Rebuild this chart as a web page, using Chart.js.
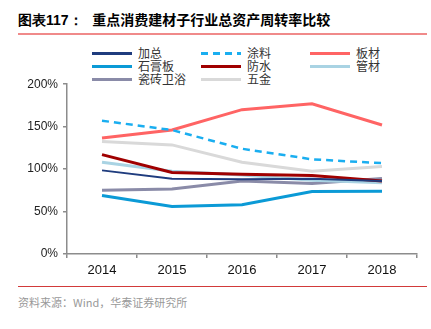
<!DOCTYPE html>
<html>
<head>
<meta charset="utf-8">
<script src="https://cdn.jsdelivr.net/npm/chart.js@4"></script>
<style>
body { margin:0; width:431px; height:329px; background:#fff; position:relative; overflow:hidden;
       font-family:"Liberation Sans","Noto Sans CJK SC",sans-serif; }
#title { position:absolute; left:18px; top:9px; font-size:14px; font-weight:bold; color:#000;
         font-family:"Noto Sans CJK SC",sans-serif; white-space:nowrap; }
#title .num { font-family:"Liberation Sans",sans-serif; }
#rule1 { position:absolute; left:18px; top:33px; width:409px; height:2px; background:#f08a8a; }
#rule2 { position:absolute; left:18px; top:286px; width:409px; height:1px; background:#d23a3a; }
#source { position:absolute; left:18px; top:294px; font-size:11px; color:#999;
          font-family:"Noto Sans CJK SC",sans-serif; white-space:nowrap; }
#legend { position:absolute; left:0; top:46px; }
.item { position:absolute; height:14px; font-size:12px; color:#333; white-space:nowrap;
        font-family:"Noto Sans CJK SC",sans-serif; line-height:14px; }
.item .sw { position:absolute; left:0; top:6px; width:40px; height:0; }
.item span { position:absolute; left:46px; top:0; }
#wrap { position:absolute; left:0; top:72px; width:431px; height:208px; }
</style>
</head>
<body>
<div id="title"><span class="num">图表117：</span>&nbsp;&nbsp;&nbsp;重点消费建材子行业总资产周转率比较</div>
<div id="rule1"></div>
<div id="legend"></div>
<div id="wrap"><canvas id="chart" width="431" height="208"></canvas></div>
<div id="rule2"></div>
<div id="source">资料来源：Wind，华泰证券研究所</div>
<script>
const years    = ['2014','2015','2016','2017','2018'];
const yTicks   = [0, 50, 100, 150, 200];
const total    = [98.5, 88.5, 88, 88.5, 86];      // 加总
const paint    = [157, 146, 124, 111.5, 107];     // 涂料
const board    = [136.5, 146, 170, 177, 152];     // 板材
const gypsum   = [69, 56, 58, 73.5, 74];          // 石膏板
const waterpf  = [117, 96, 94, 92.5, 86];         // 防水
const pipe     = [108, 97.5, 93, 87, 84];         // 管材
const ceramic  = [75, 76.5, 86, 83, 89];          // 瓷砖卫浴
const hardware = [132.5, 128.5, 108, 97.5, 103];  // 五金

const series = [
    {label:'加总',     data:total,    color:'#1f3c7e', width:2,   dash:[]},
    {label:'涂料',     data:paint,    color:'#1aaef0', width:2.5, dash:[7,5]},
    {label:'板材',     data:board,    color:'#ff6464', width:3,   dash:[]},
    {label:'石膏板',   data:gypsum,   color:'#0b9ad6', width:3,   dash:[]},
    {label:'防水',     data:waterpf,  color:'#a00000', width:3,   dash:[]},
    {label:'管材',     data:pipe,     color:'#a9d3e3', width:3,   dash:[]},
    {label:'瓷砖卫浴', data:ceramic,  color:'#8a8ba8', width:3,   dash:[]},
    {label:'五金',     data:hardware, color:'#d9d9d9', width:3,   dash:[]}
];

// legend, 3 columns
const colX = [92, 201, 310];
const rowY = [0, 13, 26];
const legend = document.getElementById('legend');
series.forEach((s, i) => {
    const el = document.createElement('div');
    el.className = 'item';
    el.style.left = colX[i % 3] + 'px';
    el.style.top  = rowY[Math.floor(i / 3)] + 'px';
    const sw = document.createElement('div');
    sw.className = 'sw';
    sw.style.borderTop = '3px solid ' + s.color;
    if (s.dash.length) {
        sw.style.borderTop = 'none';
        sw.style.height = '3px';
        sw.style.background = 'repeating-linear-gradient(90deg,' + s.color + ' 0 7px,transparent 7px 12px)';
    }
    const t = document.createElement('span');
    t.textContent = s.label;
    el.appendChild(sw);
    el.appendChild(t);
    legend.appendChild(el);
});

new Chart(document.getElementById('chart').getContext('2d'), {
    type: 'line',
    data: {
        labels: years,
        datasets: series.map(s => ({
            label: s.label,
            data: s.data,
            borderColor: s.color,
            backgroundColor: s.color,
            borderWidth: s.width,
            borderDash: s.dash,
            pointRadius: 0,
            tension: 0,
            fill: false
        }))
    },
    options: {
        responsive: false,
        animation: false,
        layout: { padding: { left: 0, right: 14, top: 4, bottom: 0 } },
        plugins: { legend: { display: false }, tooltip: { enabled: false } },
        scales: {
            y: {
                min: 0, max: 200,
                afterFit: scale => { scale.width = 67; },
                afterBuildTicks: scale => { scale.ticks = yTicks.map(v => ({value: v})); },
                border: { display: true, color: '#8c8c8c', width: 1.5 },
                grid: { drawOnChartArea: false, drawTicks: true, tickLength: 4, color: '#8c8c8c', lineWidth: 1.5 },
                ticks: {
                    padding: 5,
                    color: '#222',
                    font: { family: 'Liberation Sans', size: 12 },
                    callback: v => v + '%'
                }
            },
            x: {
                offset: true,
                afterFit: scale => { scale.height = 26; },
                border: { display: true, color: '#8c8c8c', width: 1.5 },
                grid: { offset: true, drawOnChartArea: false, drawTicks: true, tickLength: 4, color: '#8c8c8c', lineWidth: 1.5 },
                ticks: {
                    padding: 5,
                    color: '#111',
                    maxRotation: 0,
                    font: { family: 'Liberation Sans', size: 13 }
                }
            }
        }
    }
});
</script>
</body>
</html>
